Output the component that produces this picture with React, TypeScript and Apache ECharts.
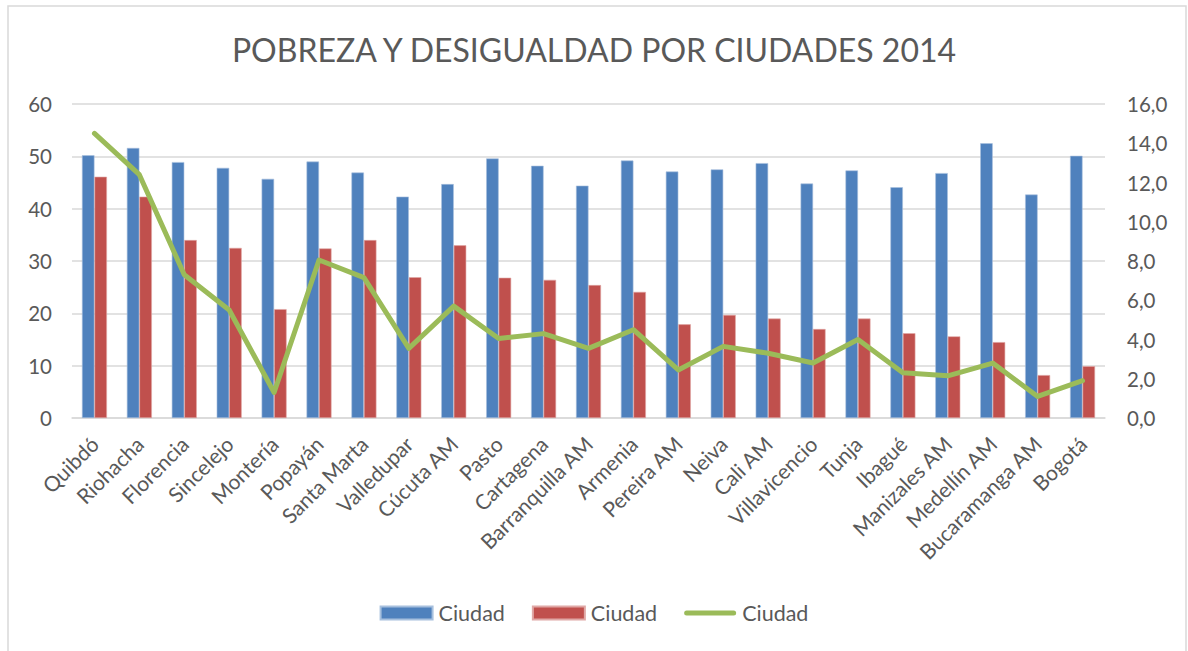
import React, { useEffect, useRef } from "react";
import * as echarts from "echarts";

const cities = [
  "Quibdó", "Riohacha", "Florencia", "Sincelejo", "Montería", "Popayán", "Santa Marta",
  "Valledupar", "Cúcuta AM", "Pasto", "Cartagena", "Barranquilla AM", "Armenia",
  "Pereira AM", "Neiva", "Cali AM", "Villavicencio", "Tunja", "Ibagué", "Manizales AM",
  "Medellín AM", "Bucaramanga AM", "Bogotá",
];

const pobreza = [
  50.2, 51.6, 48.9, 47.8, 45.7, 49.0, 46.9, 42.3, 44.7, 49.6, 48.2, 44.4, 49.2,
  47.1, 47.5, 48.7, 44.8, 47.3, 44.1, 46.8, 52.5, 42.7, 50.1,
];

const desigualdad = [
  46.1, 42.3, 34.0, 32.5, 20.8, 32.4, 34.0, 26.9, 33.0, 26.8, 26.4, 25.4, 24.1,
  17.9, 19.7, 19.0, 17.0, 19.0, 16.2, 15.6, 14.5, 8.2, 9.9,
];

const linea = [
  14.5, 12.4, 7.3, 5.5, 1.3, 8.05, 7.15, 3.55, 5.7, 4.05, 4.3, 3.55, 4.5,
  2.45, 3.65, 3.3, 2.8, 4.0, 2.3, 2.15, 2.8, 1.1, 1.9,
];

const seriesNames = ["Ciudad", "Ciudad", "Ciudad"];

export default function App() {
  const ref = useRef<HTMLDivElement>(null);
  useEffect(() => {
    if (!ref.current) return;
    const chart = echarts.init(ref.current, null, { renderer: "svg" });
    const font = "Lato, 'Open Sans', sans-serif";
    const textColor = "#595959";
    chart.setOption({
      animation: false,
      backgroundColor: "#ffffff",
      textStyle: { fontFamily: font },
      title: {
        text: "POBREZA Y DESIGUALDAD POR CIUDADES 2014",
        left: "center",
        top: 28,
        textStyle: { fontFamily: font, fontSize: 32, fontWeight: "normal", color: textColor },
      },
      graphic: [
        {
          type: "rect",
          shape: { x: 8, y: 6, width: 1178, height: 660 },
          style: { fill: "none", stroke: "#d9d9d9", lineWidth: 1.5 },
          silent: true,
          z: -1,
        },
      ],
      legend: {
        bottom: 22,
        left: "center",
        itemWidth: 52,
        itemHeight: 13,
        itemGap: 27,
        data: [
          { name: "s1", icon: "rect" },
          { name: "s2", icon: "rect" },
          {
            name: "s3",
            icon: "path://M2.5,0 L49.5,0 A2.5,2.5 0 0 1 49.5,5 L2.5,5 A2.5,2.5 0 0 1 2.5,0 Z",
          },
        ],
        formatter: (n: string) => seriesNames[Number(n.slice(1)) - 1],
        textStyle: { fontFamily: font, fontSize: 21.5, color: textColor, padding: [0, 0, 0, 1] },
      },
      grid: { left: 72, right: 83, top: 104, bottom: 233 },
      xAxis: {
        type: "category",
        data: cities,
        axisTick: { show: false },
        axisLine: { lineStyle: { color: "#d9d9d9", width: 1.5 } },
        axisLabel: {
          rotate: 45,
          interval: 0,
          margin: 22,
          fontFamily: font,
          fontSize: 21,
          color: textColor,
        },
      },
      yAxis: [
        {
          type: "value",
          min: 0,
          max: 60,
          interval: 10,
          axisLine: { show: false },
          axisTick: { show: false },
          splitLine: { lineStyle: { color: "#d9d9d9", width: 1.5 } },
          axisLabel: { fontFamily: font, fontSize: 20.5, color: textColor, margin: 20 },
        },
        {
          type: "value",
          min: 0,
          max: 16,
          interval: 2,
          position: "right",
          axisLine: { show: false },
          axisTick: { show: false },
          splitLine: { show: false },
          axisLabel: {
            fontFamily: font,
            fontSize: 20.5,
            color: textColor,
            margin: 22,
            formatter: (v: number) => v.toFixed(1).replace(".", ","),
          },
        },
      ],
      series: [
        {
          name: "s1",
          type: "bar",
          data: pobreza,
          barWidth: 12.5,
          barGap: "0%",
          itemStyle: { color: "#4F81BD", borderColor: "#a7c0de", borderWidth: 0.6 },
        },
        {
          name: "s2",
          type: "bar",
          data: desigualdad,
          barWidth: 12.5,
          barGap: "0%",
          itemStyle: { color: "#C0504D", borderColor: "#e0a8a6", borderWidth: 0.6 },
        },
        {
          name: "s3",
          type: "line",
          yAxisIndex: 1,
          data: linea,
          symbol: "none",
          showSymbol: false,
          lineStyle: { color: "#9BBB59", width: 5, cap: "round", join: "round" },
          itemStyle: { color: "#9BBB59" },
          z: 5,
        },
      ],
    });
    return () => chart.dispose();
  }, []);
  return (
    <div
      ref={ref}
      style={{ position: "fixed", left: 0, top: 0, width: 1188, height: 651 }}
    />
  );
}
